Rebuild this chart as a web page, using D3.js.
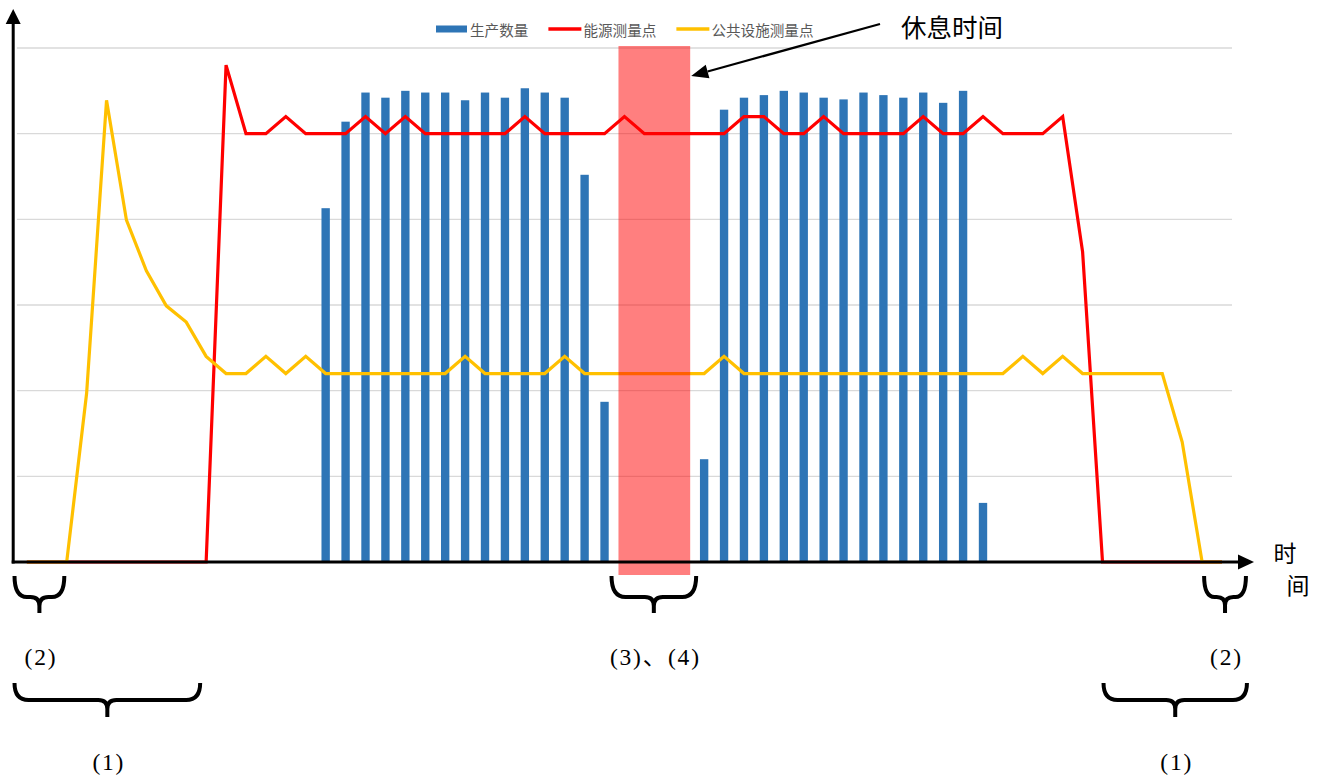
<!DOCTYPE html>
<html><head><meta charset="utf-8">
<script src="https://cdn.jsdelivr.net/npm/d3@7"></script>
<style>html,body{margin:0;padding:0;background:#fff;} svg{display:block;}</style>
</head><body><svg id="c" width="1330" height="781"></svg>
<script>
// ---- data ----
const categories = d3.range(61); // sampling time points
const seriesNames = ["生产数量", "能源测量点", "公共设施测量点"];
const production = [
 null,null,null,null,null,null,null,null,null,null,
 null,null,null,null,null,413,514,548,542,550,
 548,548,539,548,542,553,548,542,452,187,
 null,null,null,null,120,528,542,545,550,548,
 542,540,548,545,542,548,536,550,69,null,
 null,null,null,null,null,null,null,null,null,null,
 null];
const energy = [
 0,0,0,0,0,0,0,0,0,0,
 580,500,500,520,500,500,500,520,500,520,
 500,500,500,500,500,520,500,500,500,500,
 520,500,500,500,500,500,520,520,500,500,
 520,500,500,500,500,520,500,500,520,500,
 500,500,520,362,0,0,0,0,0,0,
 0];
const utility = [
 0,0,0,197,539,399,340,299,280,240,
 220,220,240,220,240,220,220,220,220,220,
 220,220,240,220,220,220,220,240,220,220,
 220,220,220,220,220,240,220,220,220,220,
 220,220,220,220,220,220,220,220,220,220,
 240,220,240,220,220,220,220,220,140,0,
 0];
const yTicks = [100,200,300,400,500,600];
const restLabel = "休息时间";
const axisLabel = ["时","间"];
// annotation spans in category-index units
const restSpan = [29.7, 33.3];
const braces = [
  {span:[-0.62, 1.88], row:0, label:"(2)"},
  {span:[-0.62, 8.7], row:1, label:"(1)"},
  {span:[29.35, 33.6], row:0, label:"(3)、(4)"},
  {span:[59.1, 61.2], row:0, label:"(2)"},
  {span:[54.05, 61.25], row:1, label:"(1)"}
];

// ---- scales ----
const svg = d3.select("#c");
const x = d3.scaleBand().domain(categories).range([16.9, 1232]).paddingInner(0.58).paddingOuter(0.29);
const bw = x.bandwidth();
const cx = i => x(i) + bw/2;
const xi = d3.scaleLinear().domain([0, 60]).range([cx(0), cx(60)]);
const y = d3.scaleLinear().domain([0, 600]).range([562, 48]);

// gridlines
svg.append("g").selectAll("line").data(yTicks).join("line")
  .attr("x1", x.range()[0]).attr("x2", x.range()[1])
  .attr("y1", d => y(d)).attr("y2", d => y(d))
  .attr("stroke", "#d9d9d9").attr("stroke-width", 1.3);

// bars
svg.append("g").selectAll("rect").data(categories.filter(i => production[i] != null)).join("rect")
  .attr("x", i => x(i)).attr("width", bw)
  .attr("y", i => y(production[i])).attr("height", i => y(0) - y(production[i]))
  .attr("fill", "#2E75B6");

const line = d3.line().x((d,i) => cx(i)).y(d => y(d));
svg.append("path").datum(energy).attr("d", line).attr("fill","none")
  .attr("stroke","#FF0000").attr("stroke-width",3.2).attr("stroke-linejoin","miter");
svg.append("path").datum(utility).attr("d", line).attr("fill","none")
  .attr("stroke","#FFC000").attr("stroke-width",3.2).attr("stroke-linejoin","miter");

// rest period rectangle
svg.append("rect")
  .attr("x", xi(restSpan[0])).attr("width", xi(restSpan[1]) - xi(restSpan[0]))
  .attr("y", 46).attr("height", 575 - 46)
  .attr("fill", "#FF0000").attr("fill-opacity", 0.5);

// axes
const ax0 = x.range()[0] - 3.7, base = y(0);
svg.append("line").attr("x1", ax0).attr("x2", ax0).attr("y1", base+1.5).attr("y2", 22)
  .attr("stroke","#000").attr("stroke-width",3);
svg.append("path").attr("d", `M${ax0},9 L${ax0-7.5},24 L${ax0+7.5},24 Z`).attr("fill","#000");
svg.append("line").attr("x1", ax0-1.5).attr("x2", 1240).attr("y1", base).attr("y2", base)
  .attr("stroke","#000").attr("stroke-width",3);
svg.append("path").attr("d", `M1254,${base} L1238,${base-7.5} L1238,${base+7.5} Z`).attr("fill","#000");

// axis label
svg.append("text").text(axisLabel[0]).attr("x",1285).attr("y",552)
  .attr("text-anchor","middle").attr("dominant-baseline","central")
  .attr("font-family","'Noto Sans CJK SC'").attr("font-size",23).attr("fill","#000");
svg.append("text").text(axisLabel[1]).attr("x",1298).attr("y",584)
  .attr("text-anchor","middle").attr("dominant-baseline","central")
  .attr("font-family","'Noto Sans CJK SC'").attr("font-size",23).attr("fill","#000");

// legend
const legend = svg.append("g");
let lx = 436;
const legendColors = ["#2E75B6","#FF0000","#FFC000"];
seriesNames.forEach((name, k) => {
  if (k === 0) legend.append("rect").attr("x", lx).attr("y", 25.5).attr("width", 31).attr("height", 7).attr("fill", legendColors[k]);
  else legend.append("line").attr("x1", lx).attr("x2", lx+33).attr("y1", 29).attr("y2", 29).attr("stroke", legendColors[k]).attr("stroke-width", 3.5);
  const t = legend.append("text").text(name).attr("x", lx + (k===0?34:35)).attr("y", 29)
    .attr("dominant-baseline","central").attr("font-family","'Noto Sans CJK SC'")
    .attr("font-size", 14.6).attr("fill", "#595959");
  lx += (k===0?34:35) + t.node().getComputedTextLength() + 20;
});

// rest annotation arrow + text
const tipX = xi(restSpan[1]) + 1, tipY = 76;
const sx = 880, sy = 24;
const ang = Math.atan2(sy - tipY, sx - tipX);
const hl = 17, hw = 7;
const bxp = tipX + hl*Math.cos(ang), byp = tipY + hl*Math.sin(ang);
svg.append("line").attr("x1", sx).attr("y1", sy).attr("x2", bxp).attr("y2", byp)
  .attr("stroke","#000").attr("stroke-width",2.2);
svg.append("path").attr("d", `M${tipX},${tipY} L${bxp - hw*Math.sin(ang)},${byp + hw*Math.cos(ang)} L${bxp + hw*Math.sin(ang)},${byp - hw*Math.cos(ang)} Z`).attr("fill","#000");
svg.append("text").text(restLabel).attr("x", 901).attr("y", 25)
  .attr("dominant-baseline","central").attr("font-family","'Noto Sans CJK SC'")
  .attr("font-size", 25.5).attr("fill","#000");

// braces
const rows = [{top:576, mid:597, bot:613, label:657}, {top:683, mid:700, bot:717, label:762}];
braces.forEach(b => {
  const x0 = xi(b.span[0]), x1 = xi(b.span[1]), xc = (x0+x1)/2;
  const r = rows[b.row];
  const rr = Math.min(14, (x1-x0)/4), r2 = Math.min(9, (x1-x0)/5);
  const p = `M${x0},${r.top} Q${x0},${r.mid} ${x0+rr},${r.mid} L${xc-r2},${r.mid} Q${xc},${r.mid} ${xc},${r.mid+r2} L${xc},${r.bot}` +
            ` M${xc},${r.mid+r2} Q${xc},${r.mid} ${xc+r2},${r.mid} L${x1-rr},${r.mid} Q${x1},${r.mid} ${x1},${r.top}`;
  svg.append("path").attr("d", p).attr("fill","none").attr("stroke","#000").attr("stroke-width",4);
  svg.append("text").text(b.label).attr("x", xc+1.5).attr("y", r.label)
    .attr("text-anchor","middle").attr("dominant-baseline","central")
    .attr("font-family","'Liberation Serif','Noto Sans CJK SC'").attr("font-size", 23.5)
    .attr("letter-spacing", 1.8).attr("fill","#000");
});
</script></body></html>
